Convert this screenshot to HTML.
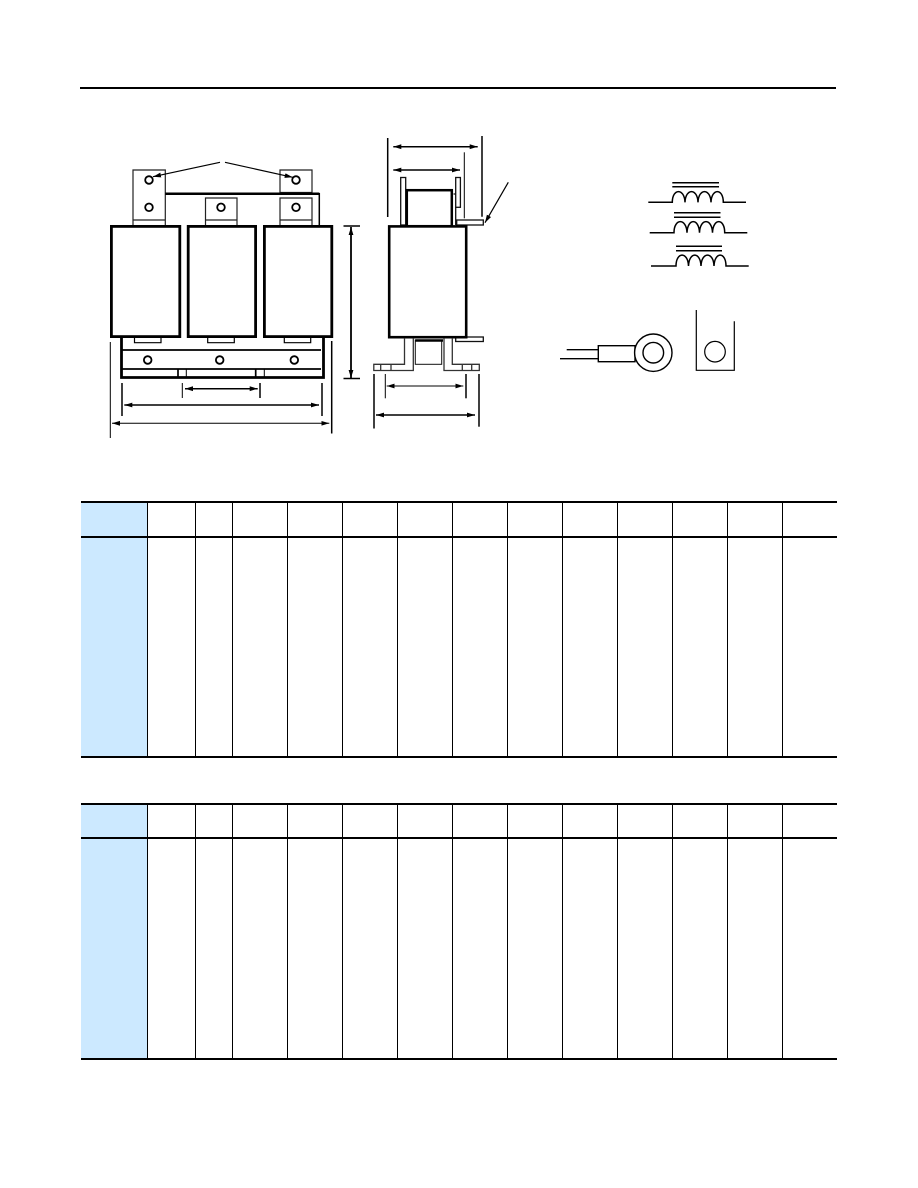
<!DOCTYPE html>
<html><head><meta charset="utf-8"><style>html,body{margin:0;padding:0;background:#fff}svg{display:block}</style></head>
<body>
<svg xmlns="http://www.w3.org/2000/svg" width="918" height="1188" viewBox="0 0 918 1188">
<defs>
<marker id="a" markerUnits="userSpaceOnUse" markerWidth="9" markerHeight="6" refX="8" refY="3" orient="auto-start-reverse"><path d="M0 .6L8 3L0 5.4z" fill="#000"/></marker>
</defs>
<rect width="918" height="1188" fill="#fff"/>
<rect x="80" y="87" width="756" height="2" fill="#000"/>

<!-- tables -->
<g fill="#cce9ff"><rect x="81" y="502" width="66" height="255"/><rect x="81" y="804" width="66" height="255"/></g>
<g fill="#000">
<rect x="81" y="501" width="756" height="2"/><rect x="81" y="536" width="756" height="2"/><rect x="81" y="756" width="756" height="2"/>
<rect x="81" y="803" width="756" height="2"/><rect x="81" y="837" width="756" height="2"/><rect x="81" y="1058" width="756" height="2"/>
<rect x="147" y="502" width="1" height="255"/><rect x="195" y="502" width="1" height="255"/><rect x="232" y="502" width="1" height="255"/>
<rect x="287" y="502" width="1" height="255"/><rect x="342" y="502" width="1" height="255"/><rect x="397" y="502" width="1" height="255"/>
<rect x="452" y="502" width="1" height="255"/><rect x="507" y="502" width="1" height="255"/><rect x="562" y="502" width="1" height="255"/>
<rect x="617" y="502" width="1" height="255"/><rect x="672" y="502" width="1" height="255"/><rect x="727" y="502" width="1" height="255"/>
<rect x="782" y="502" width="1" height="255"/>
<rect x="147" y="804" width="1" height="255"/><rect x="195" y="804" width="1" height="255"/><rect x="232" y="804" width="1" height="255"/>
<rect x="287" y="804" width="1" height="255"/><rect x="342" y="804" width="1" height="255"/><rect x="397" y="804" width="1" height="255"/>
<rect x="452" y="804" width="1" height="255"/><rect x="507" y="804" width="1" height="255"/><rect x="562" y="804" width="1" height="255"/>
<rect x="617" y="804" width="1" height="255"/><rect x="672" y="804" width="1" height="255"/><rect x="727" y="804" width="1" height="255"/>
<rect x="782" y="804" width="1" height="255"/>
</g>

<!-- front view -->
<g fill="none" stroke="#000">
<g stroke="#222" stroke-width="1.200">
<path d="M133 225V170H165.300V225M133.500 220H165"/>
<path d="M280 192.500V170H312V192.500Z"/>
<path d="M205.500 225V198H237V225M205.500 220H237"/>
<path d="M280 225V198H312V225M280 220H312"/>
</g>
<path d="M165.300 193.700H319.300" stroke-width="2.500"/>
<path d="M319.300 193V225" stroke-width="1.500"/>
<g stroke-width="1.800" fill="#fff">
<circle cx="149" cy="180" r="3.800"/><circle cx="149" cy="207.300" r="3.800"/><circle cx="296" cy="180" r="3.800"/>
<circle cx="221" cy="207.300" r="3.800"/><circle cx="296" cy="207.300" r="3.800"/>
<circle cx="147.700" cy="360" r="3.800"/><circle cx="219.700" cy="360" r="3.800"/><circle cx="294.300" cy="360" r="3.800"/>
</g>
<path d="M220 162.300L153 176.700" stroke-width="1.200" marker-end="url(#a)"/>
<path d="M225 162.300L292.700 177.300" stroke-width="1.200" marker-end="url(#a)"/>
<path d="M121.500 337V377.500H323.500V337" stroke-width="2.800"/>
<path d="M122 350H321M122 369H321" stroke-width="1.700"/>
<path d="M134.500 337V342.700H161V337M207.700 337V342.700H234.300V337M284.300 337V342.700H310.700V337" stroke-width="1.200"/>
<path d="M178 369V377M255.700 369V377" stroke-width="1.700"/>
<path d="M186.300 369V377M264.300 369V377" stroke-width="1"/>
<g stroke-width="2.800" fill="#fff">
<rect x="111.400" y="226.400" width="68.400" height="110.200"/>
<rect x="188.200" y="226.400" width="67.400" height="110.200"/>
<rect x="264.400" y="226.400" width="67.400" height="110.200"/>
</g>
<path d="M182.300 383V398" stroke-width="1"/>
<path d="M260 383V398" stroke-width="1.500"/>
<path d="M122 383V416M322 383V416" stroke-width="1.500"/>
<path d="M110.300 342V438" stroke-width="1"/>
<path d="M331.700 341V433.500" stroke-width="1.500"/>
<path d="M185 388.700H257.700" stroke-width="1.500" marker-start="url(#a)" marker-end="url(#a)"/>
<path d="M124.300 405H319" stroke-width="1.500" marker-start="url(#a)" marker-end="url(#a)"/>
<path d="M112 423.300H329.300" stroke-width="1" marker-start="url(#a)" marker-end="url(#a)"/>

<!-- height dimension -->
<path d="M343.500 226H360M343.500 378.500H360" stroke-width="1.500"/>
<path d="M351 227V378" stroke-width="1.800" marker-start="url(#a)" marker-end="url(#a)"/>

<!-- side view -->
<g stroke="#111" stroke-width="1.300">
<rect x="400.700" y="177.500" width="5" height="47.500"/>
<rect x="455.700" y="177.500" width="4.700" height="29.800"/>
<path d="M453.500 194H455.700M455.700 207V225"/>
<rect x="456.700" y="220" width="26.600" height="5"/>
<rect x="455.700" y="337" width="27.600" height="4.500"/>
<rect x="415.300" y="340" width="26.400" height="24.300" stroke-width="1"/>
</g>
<rect x="406.800" y="190.200" width="45" height="36" stroke-width="2.500"/>
<rect x="389.200" y="226.400" width="77" height="110.800" stroke-width="2.600" fill="#fff"/>
<path d="M415.300 340.500H443" stroke-width="2.500"/>
<g stroke="#333" stroke-width="1.300">
<path d="M404.500 338V364.300H373.800V370.500H413.300V338"/>
<path d="M452.300 338V364.300H479.300V370.500H444V338"/>
<path d="M380.700 364.300V370.500M391 364.300V370.500M462.300 364.300V370.500M471.700 364.300V370.500"/>
</g>
<path d="M464.300 152.300V218.300" stroke-width="1"/>
<path d="M387.700 138V217M482 136V216.700" stroke-width="1.500"/>
<path d="M393.300 146.700H477.700" stroke-width="1.500" marker-start="url(#a)" marker-end="url(#a)"/>
<path d="M393.300 170H460" stroke-width="1.500" marker-start="url(#a)" marker-end="url(#a)"/>
<path d="M508.300 182.300L485 222.700" stroke-width="1.200" marker-end="url(#a)"/>
<path d="M374 374V428.500" stroke-width="1.500"/>
<path d="M479 374V426.700" stroke-width="1.500"/>
<path d="M385.300 374V398.300" stroke-width="1"/>
<path d="M466 374V398.300" stroke-width="1.500"/>
<path d="M386.700 386H463.300" stroke-width="1" marker-start="url(#a)" marker-end="url(#a)"/>
<path d="M376 415H475" stroke-width="1.500" marker-start="url(#a)" marker-end="url(#a)"/>

<!-- coils -->
<g stroke-width="1.500">
<path d="M672.300 182.700H719M672.300 186.700H719"/>
<path d="M648.300 202.300H672.300C672.300 188 684.500 188 685 202.300C685.500 188 697.500 188 698 202.300C698.500 188 710.500 188 711 202.300C711.500 188 723.300 188 723.300 202.300H746"/>
<path d="M674 212.700H720.500M674 217.300H720.500"/>
<path d="M649.700 232.700H674C674 218 686.500 218 687 232.700C687.500 218 699 218 699.500 232.700C700 218 712 218 712.500 232.700C713 218 724.700 218 724.700 232.700H747.300"/>
<path d="M676 246.300H722M676 250.700H722"/>
<path d="M651 266H676C676 251.500 688 251.500 688.500 266C689 251.500 700.500 251.500 701 266C701.500 251.500 713.500 251.500 714 266C714.500 251.500 726 251.500 726 266H748.700"/>
</g>

<!-- lug -->
<path d="M566.700 349.700H598.300M560 358.700H598.300" stroke-width="1.300"/>
<rect x="598.300" y="345.700" width="36.700" height="16" stroke-width="1.400"/>
<circle cx="653.300" cy="352.700" r="18.700" stroke-width="1.400" fill="#fff"/>
<circle cx="653.300" cy="352.700" r="10.300" stroke-width="1.400"/>
<path d="M696.300 310V370.300H734.300V321.300" stroke-width="1.200"/>
<circle cx="715" cy="351.700" r="10.300" stroke-width="1.200"/>
</g>
</svg>
</body></html>
